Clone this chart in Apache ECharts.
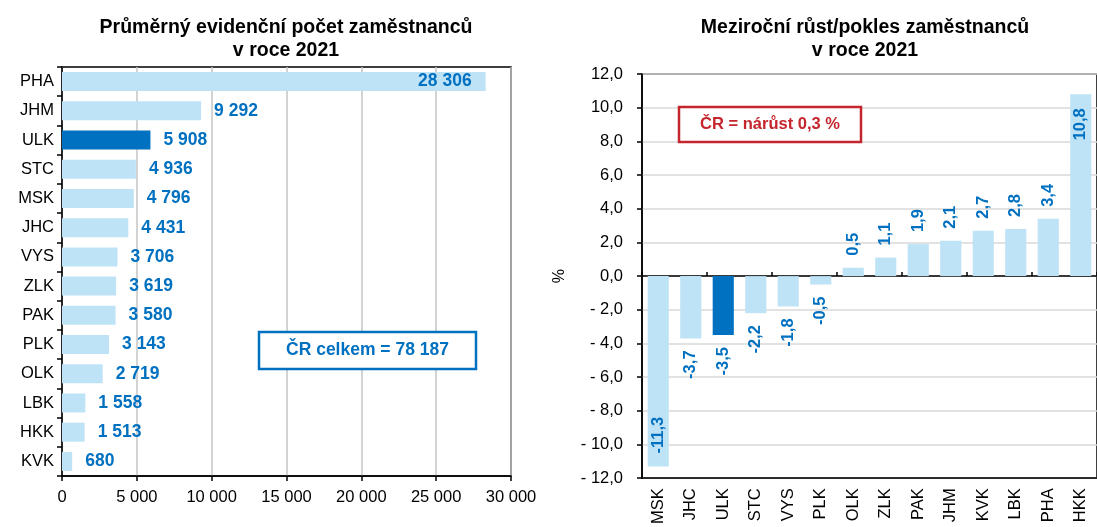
<!DOCTYPE html>
<html>
<head>
<meta charset="utf-8">
<script src="https://cdn.jsdelivr.net/npm/echarts@6/dist/echarts.min.js"></script>
<style>
  html, body { margin: 0; padding: 0; background: #fff; }
  #chart { width: 1097px; height: 527px; }
</style>
</head>
<body>
<div id="chart"></div>
<script>
// levy graf - prumerny pocet zamestnancu
var krajeLeft = ['PHA', 'JHM', 'ULK', 'STC', 'MSK', 'JHC', 'VYS', 'ZLK', 'PAK', 'PLK', 'OLK', 'LBK', 'HKK', 'KVK']
var pocty = [28306, 9292, 5908, 4936, 4796, 4431, 3706, 3619, 3580, 3143, 2719, 1558, 1513, 680]
var xTicks = [0, 5000, 10000, 15000, 20000, 25000, 30000]

// pravy graf - mezirocni zmena v %
var krajeRight = ['MSK', 'JHC', 'ULK', 'STC', 'VYS', 'PLK', 'OLK', 'ZLK', 'PAK', 'JHM', 'KVK', 'LBK', 'PHA', 'HKK']
var zmeny = [-11.3, -3.7, -3.5, -2.2, -1.8, -0.5, 0.5, 1.1, 1.9, 2.1, 2.7, 2.8, 3.4, 10.8]
var yTicks = [-12, -10, -8, -6, -4, -2, 0, 2, 4, 6, 8, 10, 12]

var celkem = '78 187'
var crZmena = '0,3'
var zvyrazneny = 'ULK'

var FONT = 'Liberation Sans, Arial, sans-serif'
var LIGHT = '#BFE3F6'
var DARK = '#0070C0'
var RED = '#C5252D'

function tisice (v) {
  return String(v).replace(/\B(?=(\d{3})+(?!\d))/g, ' ')
}
function carka (v) {
  return Math.abs(v).toFixed(1).replace('.', ',')
}

var leftData = pocty.map(function (v, i) {
  var d = {
    value: v,
    itemStyle: { color: krajeLeft[i] === zvyrazneny ? DARK : LIGHT }
  }
  if (v === Math.max.apply(null, pocty)) {
    d.label = { position: 'insideRight', distance: 14 }
  }
  return d
})

var rightData = zmeny.map(function (v, i) {
  var d = {
    value: v,
    itemStyle: { color: krajeRight[i] === zvyrazneny ? DARK : LIGHT }
  }
  var big = Math.abs(v) > 10
  if (v >= 0) {
    d.label = big
      ? { position: 'insideTop', align: 'right', distance: 14 }
      : { position: 'top', align: 'left', distance: 12 }
  } else {
    d.label = big
      ? { position: 'insideBottom', align: 'left', distance: 13 }
      : { position: 'bottom', align: 'right', distance: 12 }
  }
  return d
})

var chart = echarts.init(document.getElementById('chart'))
chart.setOption({
  backgroundColor: '#fff',
  animation: false,
  textStyle: { fontFamily: FONT },
  title: [
    {
      text: 'Průměrný evidenční počet zaměstnanců\nv roce 2021',
      left: 281,
      top: 11,
      textAlign: 'center',
      textStyle: { fontFamily: FONT, fontSize: 19.5, fontWeight: 'bold', color: '#000', lineHeight: 23 }
    },
    {
      text: 'Meziroční růst/pokles zaměstnanců\nv roce 2021',
      left: 860,
      top: 11,
      textAlign: 'center',
      textStyle: { fontFamily: FONT, fontSize: 19.5, fontWeight: 'bold', color: '#000', lineHeight: 23 }
    }
  ],
  grid: [
    { left: 62, top: 67, width: 449, height: 409, show: true, borderColor: '#000', borderWidth: 1.5, backgroundColor: 'transparent' },
    { left: 642, top: 74, width: 463, height: 405, show: true, borderColor: '#000', borderWidth: 1.5, backgroundColor: 'transparent' }
  ],
  xAxis: [
    {
      gridIndex: 0,
      type: 'value',
      min: xTicks[0],
      max: xTicks[xTicks.length - 1],
      interval: xTicks[1] - xTicks[0],
      axisLine: { show: true, lineStyle: { color: '#000', width: 1.5 } },
      axisTick: { show: true, length: 5, lineStyle: { color: '#000', width: 1.5 } },
      axisLabel: { fontSize: 16.5, color: '#000', margin: 13, formatter: tisice },
      splitLine: { show: true, lineStyle: { color: '#C4C4C4', width: 1.5 } }
    },
    {
      gridIndex: 1,
      type: 'category',
      data: krajeRight,
      position: 'bottom',
      axisLine: { onZero: false, show: true, lineStyle: { color: '#000', width: 1.5 } },
      axisTick: { show: false },
      axisLabel: { fontSize: 16.5, color: '#000', rotate: 90, margin: 10, interval: 0 },
      splitLine: { show: false }
    },
    {
      gridIndex: 1,
      type: 'category',
      data: krajeRight,
      axisLine: { onZero: true, show: true, lineStyle: { color: '#000', width: 1.5 } },
      axisTick: { show: true, length: 4, lineStyle: { color: '#000', width: 1.5 } },
      axisLabel: { show: false },
      splitLine: { show: false }
    }
  ],
  yAxis: [
    {
      gridIndex: 0,
      type: 'category',
      data: krajeLeft,
      inverse: true,
      axisLine: { show: true, lineStyle: { color: '#000', width: 1.5 } },
      axisTick: { show: true, length: 5, lineStyle: { color: '#000', width: 1.5 } },
      axisLabel: { fontSize: 16.5, color: '#000', margin: 8, interval: 0 }
    },
    {
      gridIndex: 1,
      type: 'value',
      min: yTicks[0],
      max: yTicks[yTicks.length - 1],
      interval: yTicks[1] - yTicks[0],
      name: '%',
      nameLocation: 'middle',
      nameRotate: 90,
      nameGap: 74,
      nameTextStyle: { fontSize: 16, color: '#000' },
      axisLine: { show: true, lineStyle: { color: '#000', width: 1.5 } },
      axisTick: { show: true, length: 5, lineStyle: { color: '#000', width: 1.5 } },
      axisLabel: {
        fontSize: 16.5,
        color: '#000',
        margin: 19,
        formatter: function (v) { return (v < 0 ? '- ' : '') + carka(v) }
      },
      splitLine: { show: true, lineStyle: { color: '#D9D9D9', width: 1.5 } }
    }
  ],
  series: [
    {
      type: 'bar',
      xAxisIndex: 0,
      yAxisIndex: 0,
      data: leftData,
      barCategoryGap: '35%',
      label: {
        show: true,
        position: 'right',
        distance: 13,
        fontSize: 17.5,
        fontWeight: 'bold',
        color: DARK,
        formatter: function (p) { return tisice(p.value) }
      }
    },
    {
      type: 'bar',
      xAxisIndex: 1,
      yAxisIndex: 1,
      data: rightData,
      barCategoryGap: '35%',
      label: {
        show: true,
        rotate: 90,
        verticalAlign: 'middle',
        fontSize: 16.5,
        fontWeight: 'bold',
        color: DARK,
        formatter: function (p) { return (p.value < 0 ? '-' : '') + carka(p.value) }
      }
    }
  ],
  graphic: [
    {
      type: 'rect',
      shape: { x: 259, y: 332, width: 217, height: 37 },
      style: { fill: '#fff', stroke: DARK, lineWidth: 2.5 },
      z: 10
    },
    {
      type: 'text',
      x: 367.5,
      y: 350.5,
      style: { text: 'ČR celkem = ' + celkem, align: 'center', verticalAlign: 'middle', fill: DARK, font: 'bold 17.5px ' + FONT },
      z: 11
    },
    {
      type: 'rect',
      shape: { x: 679, y: 107, width: 182, height: 35 },
      style: { fill: '#fff', stroke: RED, lineWidth: 2.5 },
      z: 10
    },
    {
      type: 'text',
      x: 770,
      y: 124.5,
      style: { text: 'ČR = nárůst ' + crZmena + ' %', align: 'center', verticalAlign: 'middle', fill: RED, font: 'bold 16.5px ' + FONT },
      z: 11
    }
  ]
})
</script>
</body>
</html>
